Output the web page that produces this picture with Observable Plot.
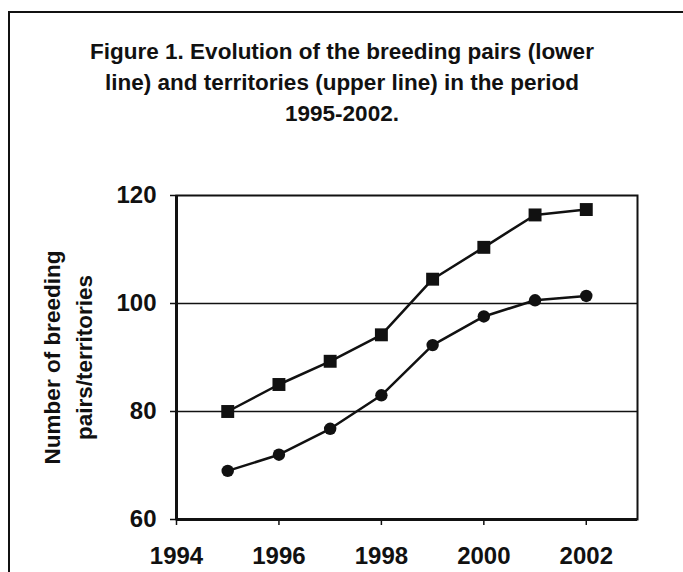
<!DOCTYPE html>
<html><head><meta charset="utf-8">
<script src="https://cdn.jsdelivr.net/npm/d3@7"></script>
<script src="https://cdn.jsdelivr.net/npm/@observablehq/plot@0.6"></script>
<style>
html,body{margin:0;padding:0;background:#fff;}
#wrap{position:relative;width:683px;height:572px;overflow:hidden;font-family:"Liberation Sans",Arial,sans-serif;}
#box{position:absolute;left:8px;top:11px;width:700px;height:600px;border-left:2px solid #111;border-top:2px solid #111;}
#title{position:absolute;left:0;top:36px;width:684px;text-align:center;font-size:22.5px;font-weight:bold;line-height:31px;color:#111;}
#chart{position:absolute;left:0;top:0;}
</style></head>
<body><div id="wrap"><div id="box"></div>
<div id="title">Figure 1. Evolution of the breeding pairs (lower<br>line) and territories (upper line) in the period<br>1995-2002.</div>
<div id="chart"></div></div>
<script>
const years = [1995, 1996, 1997, 1998, 1999, 2000, 2001, 2002];
const territories = [80, 85, 89.3, 94.2, 104.5, 110.4, 116.4, 117.4];
const pairs = [69, 72, 76.8, 83, 92.3, 97.6, 100.6, 101.4];
const xTicks = [1994, 1996, 1998, 2000, 2002];
const yTicks = [60, 80, 100, 120];

const terr = years.map((y, i) => ({year: y, value: territories[i]}));
const prs = years.map((y, i) => ({year: y, value: pairs[i]}));

const chart = Plot.plot({
  width: 683, height: 572,
  marginLeft: 176, marginRight: 46, marginTop: 195, marginBottom: 53,
  style: {fontFamily: '"Liberation Sans", Arial, sans-serif', background: "transparent", color: "#111"},
  x: {domain: [1994, 2003]},
  y: {domain: [60, 120]},
  marks: [
    Plot.ruleY([80, 100], {stroke: "#111", strokeWidth: 1.5}),
    Plot.frame({stroke: "#111", strokeWidth: 2}),
    Plot.axisX({ticks: xTicks, tickFormat: d => String(d), tickSize: 6, tickPadding: 21, fontSize: 24, fontWeight: "bold", stroke: "#111", strokeWidth: 1.5, label: null}),
    Plot.axisY({ticks: yTicks, tickSize: 6, tickPadding: 14, fontSize: 24, fontWeight: "bold", stroke: "#111", strokeWidth: 1.5, label: null}),
    Plot.text(["Number of breeding\npairs/territories"], {frameAnchor: "left", textAnchor: "middle", dx: -111, rotate: -90, fontSize: 22.5, fontWeight: "bold", lineHeight: 1.45, fill: "#111"}),
    Plot.ruleX([1994], {stroke: "#111", strokeWidth: 3}),
    Plot.ruleY([60], {stroke: "#111", strokeWidth: 3}),
    Plot.line(terr, {x: "year", y: "value", stroke: "#111", strokeWidth: 2.5}),
    Plot.line(prs, {x: "year", y: "value", stroke: "#111", strokeWidth: 2.5}),
    Plot.dot(terr, {x: "year", y: "value", symbol: "square", r: 7.3, fill: "#111"}),
    Plot.dot(prs, {x: "year", y: "value", symbol: "circle", r: 6.2, fill: "#111"})
  ]
});
document.getElementById("chart").appendChild(chart);
</script></body></html>
